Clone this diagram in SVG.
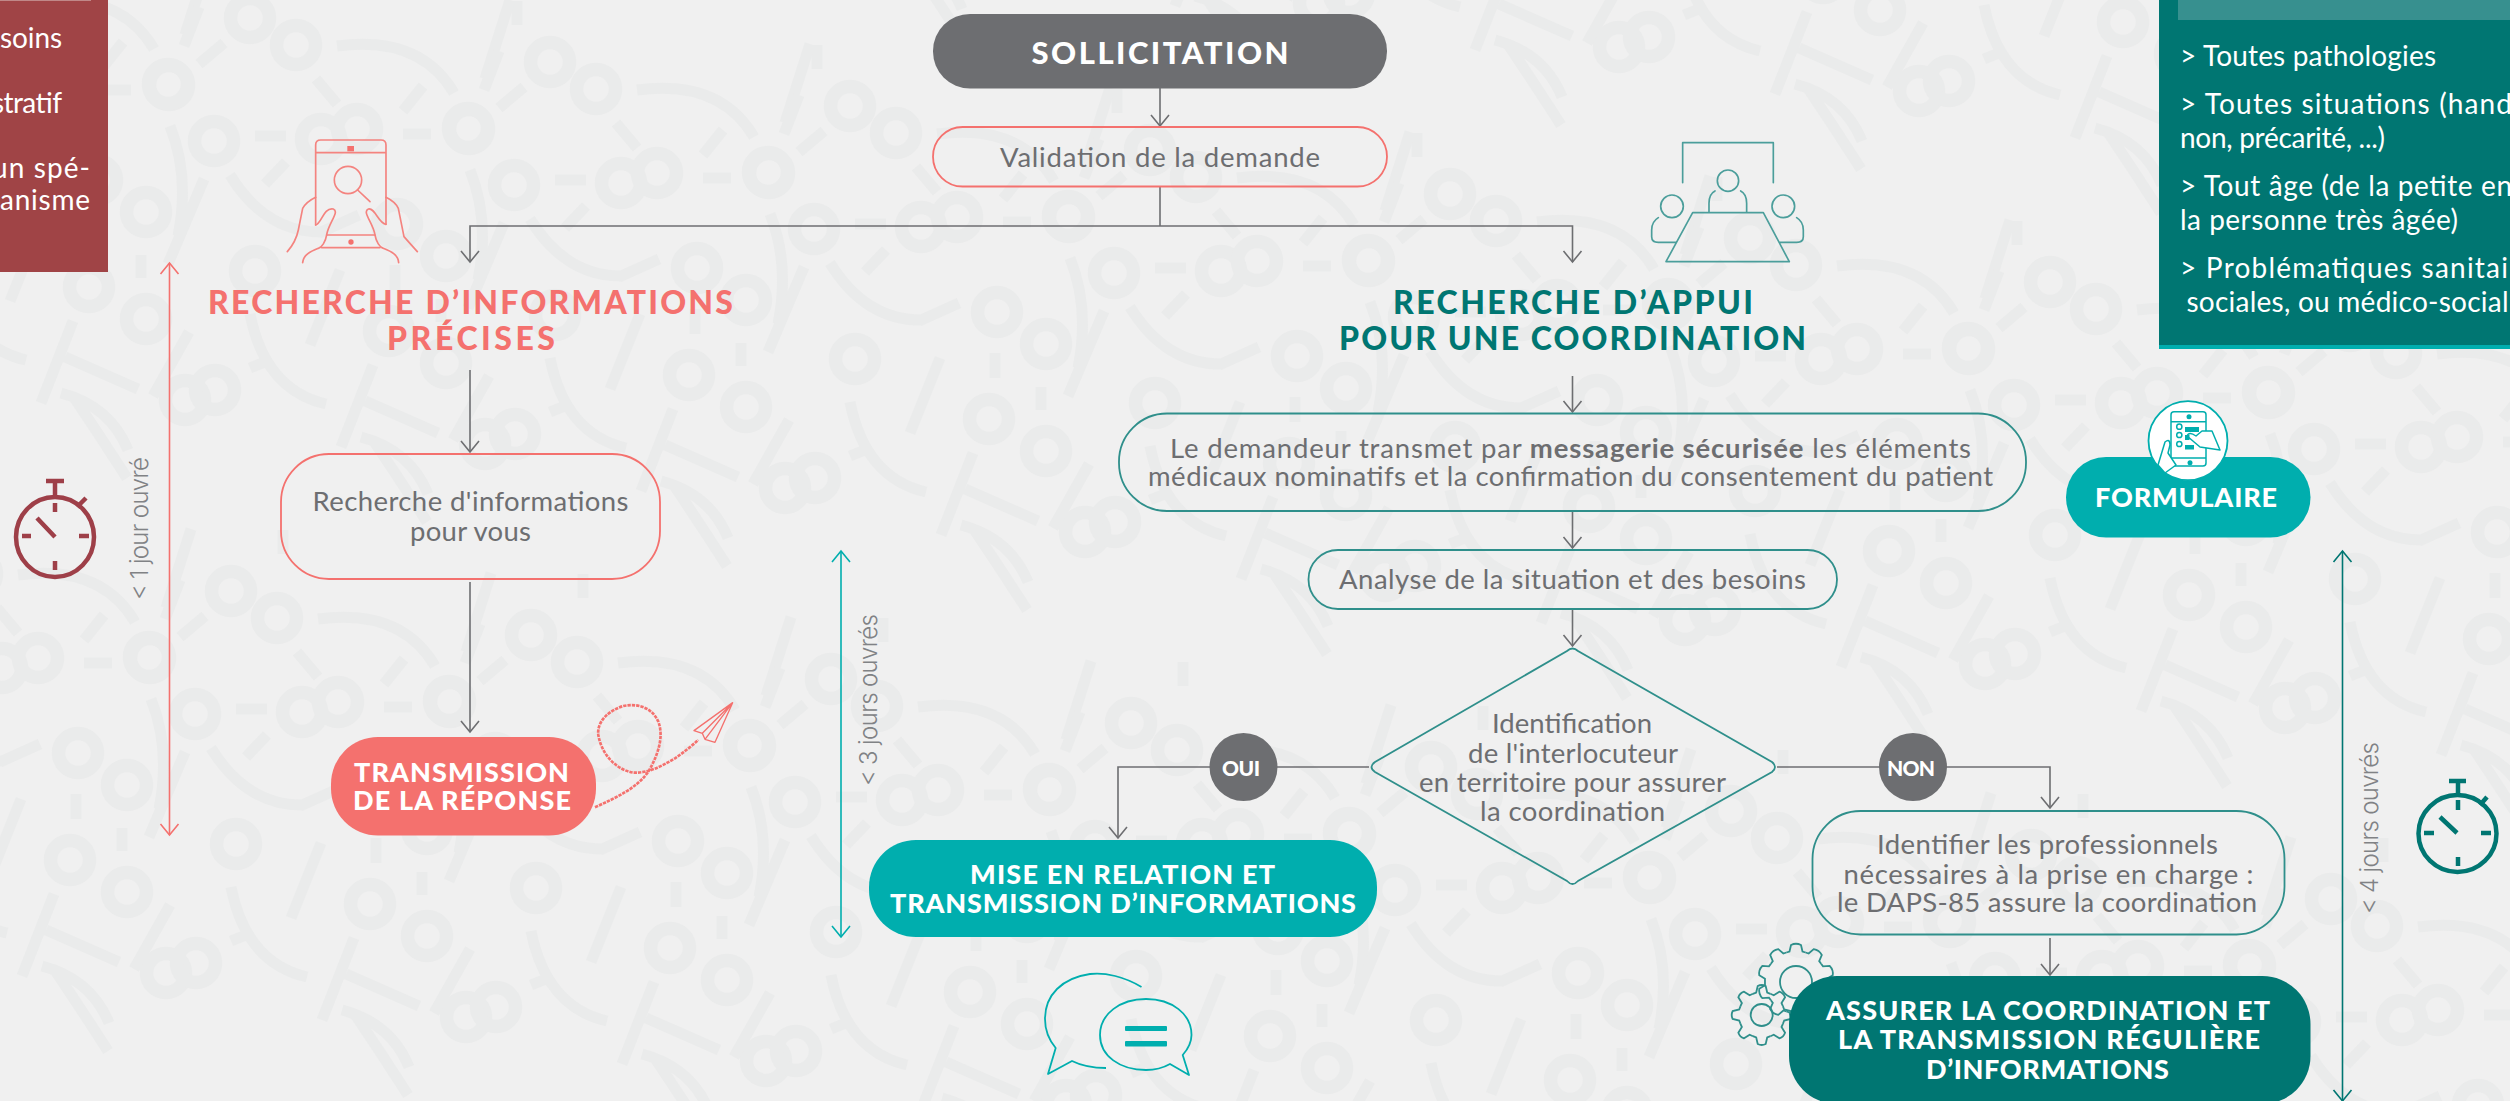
<svg xmlns="http://www.w3.org/2000/svg" xmlns:xlink="http://www.w3.org/1999/xlink" width="2510" height="1101" viewBox="0 0 2510 1101">
<style>
text{font-family:"Lato","Liberation Sans",sans-serif}
.b{font-size:27.5px;fill:#6d6e71;text-anchor:middle}
.h{font-size:32px;font-weight:900;text-anchor:middle}
.w{font-size:27px;font-weight:900;fill:#fff;text-anchor:middle}
.d{font-family:"Inter","Liberation Sans",sans-serif;font-size:24px;font-weight:300;fill:#808285}
.p{font-size:28px;fill:#fff}
.o{fill:none;stroke-width:1.8}
.c{fill:none;stroke:#6d6e71;stroke-width:1.6;marker-end:url(#ag)}
.bgs{fill:none;stroke:#eaebeb;stroke-width:11}
.bgs circle{stroke-width:13.500}
</style>
<defs>
<marker id="ag" markerUnits="userSpaceOnUse" markerWidth="24" markerHeight="24" refX="12" refY="12" orient="auto-start-reverse"><path d="M1,3L12,12L1,21" fill="none" stroke="#6d6e71" stroke-width="1.6"/></marker>
<marker id="ar" markerUnits="userSpaceOnUse" markerWidth="24" markerHeight="24" refX="12" refY="12" orient="auto-start-reverse"><path d="M1,3L12,12L1,21" fill="none" stroke="#f4716e" stroke-width="1.6"/></marker>
<marker id="ac" markerUnits="userSpaceOnUse" markerWidth="24" markerHeight="24" refX="12" refY="12" orient="auto-start-reverse"><path d="M1,3L12,12L1,21" fill="none" stroke="#00aeae" stroke-width="1.6"/></marker>
<marker id="at" markerUnits="userSpaceOnUse" markerWidth="24" markerHeight="24" refX="12" refY="12" orient="auto-start-reverse"><path d="M1,3L12,12L1,21" fill="none" stroke="#007672" stroke-width="1.6"/></marker>
<g id="motif" class="bgs">
<circle cx="214" cy="141" r="19.500"/><circle cx="321" cy="139" r="19.500"/><circle cx="357" cy="129" r="19.500"/><circle cx="469" cy="129" r="19.500"/>
<circle cx="250" cy="18" r="19.500"/><circle cx="296" cy="45" r="19.500"/><circle cx="168" cy="84" r="19.500"/>
<circle cx="397" cy="224" r="19.500"/><circle cx="446" cy="256" r="19.500"/><circle cx="389" cy="331" r="19.500"/><circle cx="446" cy="363" r="19.500"/>
<circle cx="255" cy="271" r="19.500"/><circle cx="185" cy="400" r="19.500"/><circle cx="215" cy="390" r="19.500"/>
<path d="M255,136H286M403,134H431M485,79L510,0M337,46Q420,35 454,93M184,46L199,7M199,64L224,43M316,79L337,104M423,86L403,111M265,184L286,162M204,179L168,264M230,175Q265,232 321,232M250,314Q265,390 326,404M189,332L153,396M250,368L270,360M361,437Q410,450 428,494M373,365L341,447M365,401L438,433M373,440Q400,480 427,522M395,265V290M441,299V322M319,233L359,215M283,530V554M470,170Q490,220 478,280M340,270L310,345"/>
</g>
<path id="gs" d="M-8.8,-21.2L-5.5,-22.5L-4,-29Q0,-31 4,-29L5.5,-22.5L8.8,-21.2" fill="none" stroke="#2f8f8b" stroke-width="1.8"/>
<path id="gb" d="M-9.6,-29.5L-6.5,-30.5L-5,-37Q0,-39.500 5,-37L6.5,-30.5L9.600,-29.5" fill="none" stroke="#2f8f8b" stroke-width="1.8"/>
</defs>
<g id="background">
<rect width="2510" height="1101" fill="#f0f0f0"/>
<use xlink:href="#motif" href="#motif" x="-66" y="-573"/><use href="#motif" x="234" y="-529"/><use href="#motif" x="534" y="-485"/><use href="#motif" x="834" y="-441"/><use href="#motif" x="1134" y="-397"/><use href="#motif" x="1434" y="-353"/><use href="#motif" x="1734" y="-309"/><use href="#motif" x="2034" y="-265"/><use href="#motif" x="2334" y="-221"/>
<use href="#motif" x="-300" y="-44"/><use href="#motif" x="0" y="0"/><use href="#motif" x="300" y="44"/><use href="#motif" x="600" y="88"/><use href="#motif" x="900" y="132"/><use href="#motif" x="1200" y="176"/><use href="#motif" x="1500" y="220"/><use href="#motif" x="1800" y="264"/><use href="#motif" x="2100" y="308"/><use href="#motif" x="2400" y="352"/>
<use href="#motif" x="-319" y="529"/><use href="#motif" x="-19" y="573"/><use href="#motif" x="281" y="617"/><use href="#motif" x="581" y="661"/><use href="#motif" x="881" y="705"/><use href="#motif" x="1181" y="749"/><use href="#motif" x="1481" y="793"/><use href="#motif" x="1781" y="837"/><use href="#motif" x="2081" y="881"/>
</g>
<g id="connectors">
<path class="c" d="M1160,88V126"/>
<path class="c" style="marker-end:none" d="M1160,186V226"/>
<path class="c" d="M1160,226H470V262"/>
<path class="c" d="M1160,226H1572.500V262"/>
<path class="c" d="M470,370V452"/>
<path class="c" d="M470,582V732"/>
<path class="c" d="M1572.500,376V412"/>
<path class="c" d="M1572.500,511V548"/>
<path class="c" d="M1572.500,609V646"/>
<path class="c" d="M1369,767H1118V838"/>
<path class="c" d="M1777,767H2050V808"/>
<path class="c" d="M2050,938V975"/>
<path fill="none" stroke="#f4716e" stroke-width="1.6" marker-start="url(#ar)" marker-end="url(#ar)" d="M169.500,263V835"/>
<path fill="none" stroke="#00aeae" stroke-width="1.6" marker-start="url(#ac)" marker-end="url(#ac)" d="M841,551V937"/>
<path fill="none" stroke="#007672" stroke-width="1.6" marker-start="url(#at)" marker-end="url(#at)" d="M2342.500,551V1101"/>
</g>
<g id="panel-left">
<rect width="108" height="272" fill="#a04446"/><rect width="91" height="1" fill="#c08888"/>
<text class="p" x="0" y="48" textLength="62">soins</text><text class="p" x="-8" y="112.500" textLength="70">stratif</text><text class="p" x="-8" y="177.500" textLength="98">un spé-</text><text class="p" x="0" y="209.500" textLength="90">anisme</text>
</g>
<g id="panel-right">
<rect x="2159" width="351" height="349" fill="#007672"/><rect x="2159" y="345" width="351" height="4" fill="#00aeae"/><rect x="2178" width="332" height="20" fill="#37908f"/>
<text class="p" x="2180" y="66" textLength="256">&gt; Toutes pathologies</text>
<text class="p" x="2180" y="113.500" textLength="332">&gt; Toutes situations (hand</text>
<text class="p" x="2180" y="148" textLength="205">non, précarité, ...)</text>
<text class="p" x="2180" y="196" textLength="332">&gt; Tout âge (de la petite en</text>
<text class="p" x="2180" y="230" textLength="278">la personne très âgée)</text>
<text class="p" x="2180" y="278" textLength="328">&gt; Problématiques sanitai</text>
<text class="p" x="2186.500" y="312" textLength="322">sociales, ou médico-social</text>
</g>
<g id="sollicitation"><rect x="933" y="14" width="454" height="74.500" rx="37" fill="#6d6e71"/><text class="w" x="1160" y="63.500" style="font-size:31px" textLength="257">SOLLICITATION</text></g>
<g id="validation"><rect class="o" stroke="#f4716e" x="933" y="127" width="454" height="59.500" rx="29.700"/><text class="b" x="1160" y="167" textLength="320">Validation de la demande</text></g>
<g id="icon-tablet" transform="translate(260 120) scale(.3333)" fill="none" stroke="#f4837f" stroke-width="5" stroke-linecap="round" stroke-linejoin="round">
<path d="M167,315V75Q167,60 182,60H363Q378,60 378,75V313M167,98H378M200,345H345M185,383H360M293,210L330,245"/><circle cx="264" cy="180" r="41"/>
<path d="M82,395Q108,365 115,330L128,265Q140,245 167,232M167,315C185,310 190,262 220,267C240,275 205,310 200,345C197,365 185,383 175,385C150,395 130,405 128,428M472,395Q445,365 432,350L415,265Q405,245 378,232M378,313C355,310 345,262 325,267C305,275 340,310 345,345C348,365 360,383 370,385C395,395 415,405 416,428"/>
<rect x="262" y="78" width="20" height="16" fill="#f4716e" stroke="none"/><circle cx="273" cy="366" r="8" fill="#f4716e" stroke="none"/>
</g>
<g id="icon-meeting" transform="translate(1630 120) scale(.3333)" fill="none" stroke="#4b9e9b" stroke-width="5" stroke-linecap="round" stroke-linejoin="round">
<path d="M158,188V68H430V188M108,425L188,278H400L478,425ZM237,277V250Q237,222 255,213M350,277V250Q350,222 332,213M85,293Q65,305 65,330V350Q65,367 85,367H138M500,293Q520,305 520,330V350Q520,367 500,367H450"/>
<circle cx="294" cy="182" r="32"/><circle cx="126" cy="259" r="34"/><circle cx="460" cy="259" r="34"/>
</g>
<g id="heading-info"><text class="h" fill="#f4716e" x="470.500" y="314" textLength="525">RECHERCHE D’INFORMATIONS</text><text class="h" fill="#f4716e" x="471" y="350" textLength="168">PRÉCISES</text></g>
<g id="heading-coord"><text class="h" fill="#007672" x="1573" y="314" textLength="360">RECHERCHE D’APPUI</text><text class="h" fill="#007672" x="1572.500" y="350" textLength="467">POUR UNE COORDINATION</text></g>
<g id="recherche"><rect class="o" stroke="#f4716e" x="281" y="454" width="379" height="125" rx="48"/><text class="b" x="470.500" y="511" textLength="316">Recherche d'informations</text><text class="b" x="470.500" y="541" textLength="121">pour vous</text></g>
<g id="transmission"><rect x="331" y="737" width="265" height="98.500" rx="47" fill="#f4716e"/><text class="w" x="461.500" y="781.500" textLength="215">TRANSMISSION</text><text class="w" x="462" y="810" textLength="218">DE LA RÉPONSE</text></g>
<g id="icon-plane" transform="translate(580 680) scale(.3333)" fill="none" stroke="#f4716e" stroke-linejoin="round">
<path stroke-width="8" stroke-dasharray="10 3" d="M45,382C110,352 170,325 205,275C240,215 250,165 235,125C215,80 170,70 130,78C85,92 50,125 55,165C65,225 110,270 160,278C200,280 240,262 285,235C310,218 335,198 355,180"/>
<path stroke-width="4" d="M458,68L342,152L367,160L375,178ZM458,68L405,187L375,178M458,68L367,160"/>
</g>
<g id="demandeur"><rect class="o" stroke="#2f8f8b" x="1119" y="413.500" width="907" height="97.500" rx="48"/><text class="b" x="1570.500" y="458" textLength="801">Le demandeur transmet par <tspan font-weight="700">messagerie sécurisée</tspan> les éléments</text><text class="b" x="1570.500" y="486" textLength="845">médicaux nominatifs et la confirmation du consentement du patient</text></g>
<g id="formulaire"><rect x="2066" y="457" width="244.500" height="80.500" rx="40" fill="#00aeae"/><text class="w" x="2186" y="506.500" textLength="182">FORMULAIRE</text>
<circle cx="2188" cy="440.700" r="39.500" fill="#fff" stroke="#00aeae" stroke-width="1.8"/>
<g fill="none" stroke="#00aeae" stroke-width="1.500" stroke-linejoin="round"><rect x="2171" y="411.700" width="35" height="54.300" rx="3"/><path d="M2171,421.700H2206M2171,458H2206"/><circle cx="2179.300" cy="426.700" r="2.600"/><circle cx="2179.300" cy="435" r="2.600"/><circle cx="2179.300" cy="444" r="2.600"/>
<path fill="#fff" d="M2158,465L2165,442Q2170,438 2170,445L2168,453L2176,465L2165,473ZM2202,431L2212,431L2220,450L2200,447L2187,436Q2189,431 2196,436Z"/></g>
<g fill="#00aeae"><circle cx="2189" cy="416.700" r="2.500"/><circle cx="2190" cy="462.700" r="2.500"/><rect x="2185" y="427" width="14" height="5"/><rect x="2185" y="435" width="4.500" height="5"/><rect x="2185" y="445" width="9" height="4.500"/></g>
</g>
<g id="analyse"><rect class="o" stroke="#2f8f8b" x="1308.500" y="550" width="528.500" height="59" rx="29.500"/><text class="b" x="1572.500" y="589" textLength="467">Analyse de la situation et des besoins</text></g>
<g id="decision"><path class="o" stroke="#2f8f8b" d="M1567,651Q1572.500,646 1578,651L1772,762Q1778,767 1772,772L1578,881Q1572.500,887 1567,881L1375,772Q1368,767 1375,762Z"/>
<text class="b" x="1572" y="732.500" textLength="160">Identification</text><text class="b" x="1573" y="762.500" textLength="210">de l'interlocuteur</text><text class="b" x="1572.500" y="791.500" textLength="307">en territoire pour assurer</text><text class="b" x="1572.500" y="821" textLength="185">la coordination</text></g>
<g id="oui"><circle cx="1243.500" cy="767" r="34" fill="#6d6e71"/><text class="w" style="font-size:21px" x="1241" y="775.500" textLength="38">OUI</text></g>
<g id="non"><circle cx="1913" cy="767" r="34" fill="#6d6e71"/><text class="w" style="font-size:21px" x="1911" y="775.500" textLength="48">NON</text></g>
<g id="mise-en-relation"><rect x="869" y="840" width="508" height="97" rx="47" fill="#00aeae"/><text class="w" x="1122.500" y="883.500" textLength="305">MISE EN RELATION ET</text><text class="w" x="1123" y="913" textLength="466">TRANSMISSION D’INFORMATIONS</text></g>
<g id="icon-chat" fill="none" stroke="#00aeae" stroke-width="1.800" stroke-linejoin="round">
<path d="M1141.500,987C1125,977 1105,972 1090,974C1062,978 1045,995 1045,1019C1045,1030 1049,1040 1055.700,1048L1048,1074L1072,1061C1082,1066 1093,1068 1106,1068"/>
<path d="M1146,999C1120,999 1100,1014 1100,1035C1100,1056 1120,1070 1146,1070C1155,1070 1163,1068 1170,1064L1189,1075L1182.700,1055C1188,1049 1191.500,1042 1191.500,1035C1191.500,1014 1172,999 1146,999Z"/>
<g fill="#00aeae" stroke="none"><rect x="1125" y="1026" width="42" height="5" rx="1"/><rect x="1125" y="1041" width="42" height="5.500" rx="1"/></g>
</g>
<g id="identifier"><rect class="o" stroke="#2f8f8b" x="1812.500" y="811" width="472" height="123.500" rx="48"/><text class="b" x="2047.500" y="854" textLength="341">Identifier les professionnels</text><text class="b" x="2048.500" y="883.500" textLength="410">nécessaires à la prise en charge :</text><text class="b" x="2047" y="912" textLength="420">le DAPS-85 assure la coordination</text></g>
<g id="icon-gears">
<g transform="translate(1796 982)"><use href="#gb"/><use href="#gb" transform="rotate(36)"/><use href="#gb" transform="rotate(72)"/><use href="#gb" transform="rotate(108)"/><use href="#gb" transform="rotate(144)"/><use href="#gb" transform="rotate(180)"/><use href="#gb" transform="rotate(216)"/><use href="#gb" transform="rotate(252)"/><use href="#gb" transform="rotate(288)"/><use href="#gb" transform="rotate(324)"/><circle r="16" fill="none" stroke="#2f8f8b" stroke-width="1.800"/></g>
<g transform="translate(1761.700 1015)"><use href="#gs"/><use href="#gs" transform="rotate(45)"/><use href="#gs" transform="rotate(90)"/><use href="#gs" transform="rotate(135)"/><use href="#gs" transform="rotate(180)"/><use href="#gs" transform="rotate(225)"/><use href="#gs" transform="rotate(270)"/><use href="#gs" transform="rotate(315)"/><circle r="11" fill="none" stroke="#2f8f8b" stroke-width="1.800"/></g>
</g>
<g id="assurer"><rect x="1789" y="976" width="521.500" height="128" rx="48" fill="#007672"/><text class="w" x="2048" y="1019.500" textLength="444">ASSURER LA COORDINATION ET</text><text class="w" x="2049" y="1049" textLength="422">LA TRANSMISSION RÉGULIÈRE</text><text class="w" x="2047.500" y="1078.500" textLength="243">D’INFORMATIONS</text></g>
<g id="delay-1"><text class="d" transform="translate(148 600) rotate(-90)" textLength="143">&lt; 1 jour ouvré</text>
<g fill="none" stroke="#9e3f48" stroke-width="4.500"><ellipse cx="55" cy="537" rx="39" ry="40"/><path d="M55,496V481M46,481H64M79,505L86,498M37,518L55,537M55,503V512M55,561V570M22,536H31M79,536H89"/></g></g>
<g id="delay-3"><text class="d" transform="translate(877 786) rotate(-90)" textLength="172">&lt; 3 jours ouvrés</text></g>
<g id="delay-4"><text class="d" transform="translate(2378 914) rotate(-90)" textLength="172">&lt; 4 jours ouvrés</text>
<g fill="none" stroke="#007672" stroke-width="4.500"><ellipse cx="2457.500" cy="833.500" rx="39" ry="38.500"/><path d="M2458,796V781M2449,781H2466M2480,805L2487,797M2440,817L2457,833M2458,800V810M2458,857V866M2424,833H2434M2481,833H2491"/></g></g>
</svg>
